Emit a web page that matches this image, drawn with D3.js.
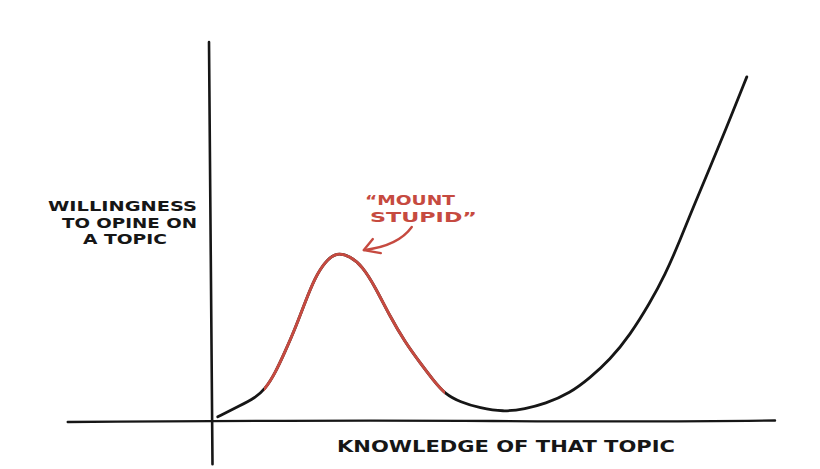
<!DOCTYPE html>
<html><head><meta charset="utf-8">
<script src="https://cdn.jsdelivr.net/npm/d3@7"></script>
<style>
html,body{margin:0;padding:0;background:#fff;}
svg{display:block;}
text{font-family:"DejaVu Sans",sans-serif;font-weight:bold;}
</style></head>
<body>
<svg id="c" width="820" height="469"></svg>
<script>
// Knowledge of the topic (x) and willingness to opine (y), 0-100 units
const knowledge   = [1.2, 5.1, 7.8, 9.6, 11.4, 13.1, 14.9, 16.7, 18.4, 20.2, 22.3, 24.7, 26.8, 29.1, 31.7, 34.4, 37.1, 39.4, 41.5, 44.2, 47.7, 51.8, 55.7, 59.2, 63.7, 67.2, 70.7, 74.3, 77.8, 80.5, 83.2, 85.8, 88.5, 91.1, 95.0];
const willingness = [1.1, 4.0, 6.1, 8.4, 12.7, 18.2, 24.3, 31.4, 37.7, 42.0, 44.6, 43.4, 40.9, 35.4, 27.7, 20.8, 15.3, 10.8, 7.1, 5.0, 3.4, 2.4, 3.2, 4.5, 7.4, 11.4, 16.1, 22.7, 31.1, 38.5, 47.8, 57.5, 67.0, 76.3, 90.8];
// "Mount Stupid" stretch of the curve (knowledge range)
const mountStart = 9.4, mountEnd = 41.5;
const yLabelLines = ["WILLINGNESS", "TO OPINE ON", "A TOPIC"];
const xLabel = "KNOWLEDGE OF THAT  TOPIC";
const annotationLines = ["\u201CMOUNT", "STUPID\u201D"];

const svg = d3.select("#c");
const x = d3.scaleLinear().domain([0, 100]).range([211, 775]);
const y = d3.scaleLinear().domain([0, 100]).range([421, 42]);

const ink = "#161616", red = "#c64a40";

// axes (hand-drawn style: no ticks)
svg.append("path")
  .attr("d", `M${x(-25.4)},${y(0)+1} Q${x(20)},${y(0)-1} ${x(50)},${y(0)} T${x(100)},${y(0)-0.5}`)
  .attr("fill", "none").attr("stroke", ink).attr("stroke-width", 2.4).attr("stroke-linecap", "round");
svg.append("path")
  .attr("d", `M${x(0)-2},${y(100)} L${x(0)+1.5},${y(-11.4)}`)
  .attr("fill", "none").attr("stroke", ink).attr("stroke-width", 2.6).attr("stroke-linecap", "round");

const pts = knowledge.map((k, i) => [k, willingness[i]]);
const line = d3.line().x(d => x(d[0])).y(d => y(d[1])).curve(d3.curveBasis);

svg.append("path").attr("d", line(pts))
  .attr("fill", "none").attr("stroke", ink).attr("stroke-width", 2.8).attr("stroke-linecap", "round");
svg.append("clipPath").attr("id", "redclip").append("rect")
  .attr("x", x(mountStart)).attr("y", 0)
  .attr("width", x(mountEnd) - x(mountStart)).attr("height", 469);
svg.append("path").attr("d", line(pts)).attr("clip-path", "url(#redclip)")
  .attr("fill", "none").attr("stroke", red).attr("stroke-width", 2.9).attr("stroke-linecap", "round");

// y label
const yl = [{t: yLabelLines[0], x0: 48, x1: 197, b: 211},
            {t: yLabelLines[1], x0: 62, x1: 197, b: 227.5},
            {t: yLabelLines[2], x0: 83, x1: 167, b: 244}];
yl.forEach(d => {
  svg.append("text").attr("x", d.x0).attr("y", d.b)
    .attr("font-size", 13.5).attr("fill", ink)
    .attr("textLength", d.x1 - d.x0).attr("lengthAdjust", "spacingAndGlyphs").text(d.t);
});
// x label
svg.append("text").attr("x", 337).attr("y", 452).attr("font-size", 15).attr("fill", ink)
  .attr("textLength", 338).attr("lengthAdjust", "spacingAndGlyphs").text(xLabel);

// annotation
svg.append("text").attr("x", 365).attr("y", 205).attr("font-size", 14).attr("fill", red)
  .attr("textLength", 90).attr("lengthAdjust", "spacingAndGlyphs").text(annotationLines[0]);
svg.append("text").attr("x", 370).attr("y", 222).attr("font-size", 14).attr("fill", red)
  .attr("textLength", 107).attr("lengthAdjust", "spacingAndGlyphs").text(annotationLines[1]);

const tip = [27.1, 45.1];
svg.append("path")
  .attr("d", `M${x(35.6)},${y(51.2)} Q${x(33.2)},${y(46.2)} ${x(tip[0])},${y(tip[1])}`)
  .attr("fill", "none").attr("stroke", red).attr("stroke-width", 2.4).attr("stroke-linecap", "round");
svg.append("path")
  .attr("d", `M${x(tip[0])+9},${y(tip[1])-11} L${x(tip[0])},${y(tip[1])} L${x(tip[0])+17},${y(tip[1])+3}`)
  .attr("fill", "none").attr("stroke", red).attr("stroke-width", 2.4)
  .attr("stroke-linecap", "round").attr("stroke-linejoin", "round");
</script>
</body></html>
